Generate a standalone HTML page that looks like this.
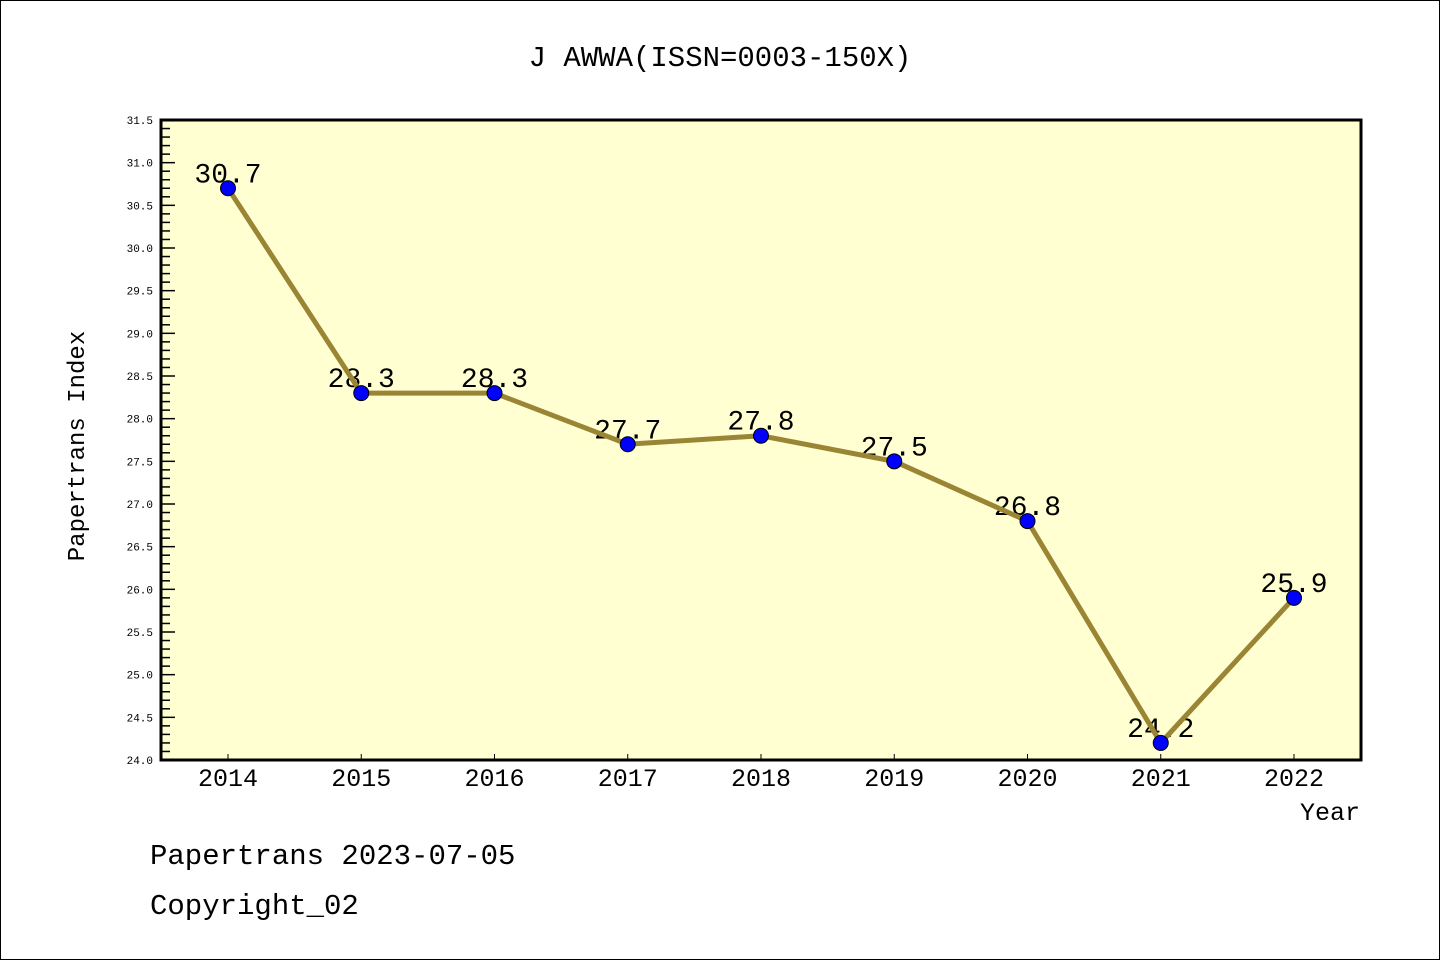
<!DOCTYPE html>
<html><head><meta charset="utf-8"><style>
body{margin:0;background:#fff}
svg text{font-family:"Liberation Mono","WenQuanYi Zen Hei Mono",monospace}
</style></head><body>
<svg width="1440" height="960">
<rect x="0.5" y="0.5" width="1439" height="959" fill="#fff" stroke="#000"/>
<text x="720" y="66" font-size="29" text-anchor="middle">J AWWA(ISSN=0003-150X)</text>
<rect x="161" y="120" width="1200" height="640" fill="#ffffd2"/>
<g id="yaxis"></g>
<g id="xaxis"></g>
<g id="labels"></g>
<g id="series"></g>
<g id="dots"></g>
<rect x="161" y="120" width="1200" height="640" fill="none" stroke="#000" stroke-width="3"/>
<text x="84" y="446" font-size="24" text-anchor="middle" transform="rotate(-90 84 446)">Papertrans Index</text>
<text x="1360" y="820" font-size="25" text-anchor="end">Year</text>
<text x="150" y="864" font-size="29">Papertrans 2023-07-05</text>
<text x="150" y="914" font-size="29">Copyright_02</text>
</svg>
<script>
const years=["2014","2015","2016","2017","2018","2019","2020","2021","2022"];
const values=[30.7,28.3,28.3,27.7,27.8,27.5,26.8,24.2,25.9];
const yTicks=["24.0","24.5","25.0","25.5","26.0","26.5","27.0","27.5","28.0","28.5","29.0","29.5","30.0","30.5","31.0","31.5"];
const NS="http://www.w3.org/2000/svg";
const yMin=24,yMax=31.5,plotTop=120,plotBot=760,x0=228,dx=133.25;
const ys=v=>plotBot-(v-yMin)/(yMax-yMin)*(plotBot-plotTop);
const xs=i=>x0+i*dx;
function mk(t,a,p){const e=document.createElementNS(NS,t);for(const k in a)e.setAttribute(k,a[k]);p.appendChild(e);return e;}
const ya=document.getElementById('yaxis');
for(let k=0;k<=75;k++){const v=yMin+k*0.1;const y=ys(v);const major=k%5===0;
 const l=mk('line',{x1:161,x2:161+(major?14:9),y1:y,y2:y,stroke:'#000','stroke-width':1.5},ya);
 
 }
yTicks.forEach(t=>{const e=mk('text',{x:153,y:ys(parseFloat(t))+4,'font-size':11,'text-anchor':'end'},ya);e.textContent=t;
 
 });
const xa=document.getElementById('xaxis');
years.forEach((yr,i)=>{const l=mk('line',{x1:xs(i),x2:xs(i),y1:plotBot,y2:plotBot-6,stroke:'#000','stroke-width':1},xa);
 
 
 const e=mk('text',{x:xs(i),y:786,'font-size':25,'text-anchor':'middle'},xa);e.textContent=yr;
 
 });
const lb=document.getElementById('labels');
values.forEach((v,i)=>{const e=mk('text',{x:xs(i),y:ys(v)-6,'font-size':28,'text-anchor':'middle'},lb);e.textContent=v.toFixed(1);
 
 });
const pl=mk('polyline',{points:values.map((v,i)=>xs(i)+','+ys(v)).join(' '),fill:'none',stroke:'#9a8535','stroke-width':5},document.getElementById('series'));


const dg=document.getElementById('dots');
values.forEach((v,i)=>{const c=mk('circle',{cx:xs(i),cy:ys(v),r:7.5,fill:'#0000ff',stroke:'#000','stroke-width':1},dg);
 
 });
</script>
</body></html>
